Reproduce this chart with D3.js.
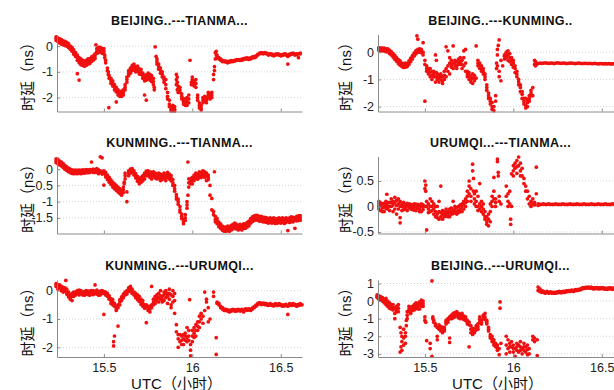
<!DOCTYPE html>
<html>
<head>
<meta charset="utf-8">
<script src="https://cdn.jsdelivr.net/npm/d3@7/dist/d3.min.js"></script>
<style>
  body { margin: 0; background: #fff; }
  svg { display: block; }
</style>
</head>
<body>
<div id="chart"></div>
<script>
// each row: [UTC hour, delay value(s) in ns at that time]
const bjTianma = [
  [15.23,0.36,0.3,0.22],[15.24,0.32,0.25,0.18],[15.25,0.28,0.2,0.12],[15.26,0.25,0.15,0.08],[15.27,0.2,0.12,0.05],
  [15.28,0.18,0.1,0.02],[15.29,0.15,0.08,0.0],[15.30,0.1,0.02,-0.05],[15.31,0.0,-0.05,-0.12],[15.32,-0.05,-0.15,-0.2],
  [15.33,-0.15,-0.25,-0.32],[15.34,-0.25,-0.32,-0.4],[15.35,-0.35,-0.45,-0.55,-1.07],[15.36,-0.45,-0.55,-0.65,-1.32],
  [15.37,-0.5,-0.6,-0.72],[15.38,-0.55,-0.65,-0.75],[15.39,-0.58,-0.68,-0.78],[15.40,-0.55,-0.65,-0.75],
  [15.41,-0.5,-0.6,-0.7],[15.42,-0.5,-0.6,-0.68],[15.43,-0.42,-0.5,-0.6],[15.44,-0.38,-0.45,-0.55],[15.45,-0.3,-0.38,-0.48],
  [15.455,0.05],[15.46,-0.1,-0.2,-0.28],[15.47,-0.05,-0.15,-0.25],[15.48,-0.05,-0.15,-0.22],[15.49,-0.1,-0.2,-0.28],
  [15.50,-0.1,-0.2,-0.3],[15.505,-0.35,-0.45],[15.51,-0.55,-0.65],[15.52,-0.85,-0.95],[15.525,-1.0,-1.1],[15.528,-2.39],
  [15.53,-1.15,-1.25],[15.54,-1.25,-1.35,-1.45],[15.55,-1.35,-1.45,-1.55],[15.56,-1.5,-1.6,-1.7],
  [15.57,-1.6,-1.7,-1.78,-2.17],[15.58,-1.7,-1.8,-1.9],[15.59,-1.78,-1.88,-1.95],[15.60,-1.75,-1.85,-1.95],
  [15.61,-1.7,-1.8,-1.9],[15.62,-1.5,-1.6,-1.7],[15.63,-1.2,-1.3,-1.4],[15.64,-0.95,-1.05,-1.15],[15.65,-0.85,-0.95,-1.05],
  [15.66,-0.75,-0.85,-0.95],[15.67,-0.7,-0.8,-0.92],[15.68,-0.8,-0.9,-1.0],[15.69,-0.78,-0.88,-0.98],
  [15.70,-0.88,-0.98,-1.08],[15.71,-0.9,-1.0,-1.1],[15.72,-1.05,-1.15,-1.25],[15.73,-1.15,-1.25,-1.35,-1.9],
  [15.74,-1.12,-1.22,-1.32,-2.1],[15.75,-1.05,-1.15,-1.25],[15.76,-1.1,-1.2,-1.32],[15.77,-1.15,-1.25,-1.38],
  [15.78,-1.25,-1.38,-1.5],[15.785,-1.6,-1.7],[15.79,-0.03],[15.795,-0.4],[15.80,-0.5,-0.6,-0.7],[15.81,-0.7,-0.8,-0.9],
  [15.82,-0.85,-0.95,-1.05],[15.83,-1.0,-1.1,-1.2],[15.84,-1.2,-1.3,-1.4],[15.85,-1.3,-1.5,-1.65],[15.86,-1.8,-1.95,-2.05],
  [15.87,-2.1,-2.25,-2.35],[15.88,-2.35,-2.45,-2.52],[15.89,-2.3,-2.42,-2.5],[15.90,-2.35,-2.45,-2.52],
  [15.91,-1.1,-1.3,-1.5],[15.915,-1.2,-1.4,-1.7],[15.92,-1.55,-1.65,-1.8],[15.93,-1.6,-1.7,-1.8],[15.94,-1.85,-1.95,-2.05],
  [15.95,-2.05,-2.15,-2.25],[15.96,-2.05,-2.2,-2.3],[15.97,-2.0,-2.15,-2.3],[15.98,-1.9,-2.05,-2.2],[15.987,-0.55],
  [15.995,-1.5,-1.4],[16.00,-1.2,-1.3,-1.4],[16.01,-1.35,-1.45,-1.55],[16.02,-1.3,-1.45,-1.6],[16.03,-1.9,-2.0,-2.1],
  [16.04,-2.2,-2.3,-2.4],[16.05,-2.3,-2.4,-2.48],[16.06,-2.0,-2.1,-2.2],[16.07,-1.95,-2.05,-2.15],[16.08,-2.0,-2.1,-2.2],
  [16.09,-1.8,-1.9,-2.0],[16.10,-1.85,-1.95,-2.05],[16.11,-1.8,-1.9,-2.0],[16.12,-1.1,-1.3],[16.125,-0.8,-0.95],
  [16.13,-0.25,-0.5],[16.135,-0.2,-0.35],[16.14,-0.35,-0.45],[16.15,-0.5,-0.45],[16.16,-0.55,-0.5],[16.17,-0.6,-0.55],
  [16.18,-0.6,-0.57],[16.19,-0.62,-0.58],[16.20,-0.65,-0.6],[16.21,-0.62,-0.58],[16.22,-0.6,-0.56],[16.23,-0.6,-0.57],
  [16.24,-0.58,-0.55],[16.25,-0.55,-0.52],[16.26,-0.55,-0.52],[16.27,-0.56,-0.53],[16.28,-0.55,-0.51],[16.29,-0.52,-0.49],
  [16.30,-0.5,-0.47],[16.31,-0.5,-0.46],[16.32,-0.52,-0.48],[16.33,-0.5,-0.46],[16.34,-0.45,-0.42],[16.35,-0.45,-0.41],
  [16.36,-0.42,-0.38],[16.37,-0.35,-0.32],[16.38,-0.3,-0.27],[16.39,-0.28,-0.25],[16.40,-0.3,-0.27],[16.41,-0.28,-0.25],
  [16.42,-0.3,-0.27],[16.43,-0.35,-0.31],[16.44,-0.32,-0.29],[16.45,-0.35,-0.31],[16.46,-0.38,-0.34],[16.47,-0.35,-0.31],
  [16.48,-0.33,-0.3],[16.49,-0.35,-0.31],[16.50,-0.38,-0.34],[16.51,-0.36,-0.33],[16.52,-0.33,-0.3],[16.53,-0.35,-0.31],
  [16.54,-0.4,-0.7],[16.55,-0.35,-0.31],[16.56,-0.32,-0.29],[16.57,-0.3,-0.27],[16.58,-0.35,-0.31],[16.59,-0.33,-0.3],
  [16.60,-0.3,-0.45],[16.61,-0.3,-0.27]
];

const bjKunming = [
  [15.24,0.17,0.12,0.07],[15.25,0.15,0.1,0.05],[15.26,0.15,0.1,0.05],[15.27,0.15,0.1,0.05],[15.28,0.12,0.07,0.02],
  [15.29,0.12,0.07,0.02],[15.30,0.08,0.02,-0.05],[15.31,0.02,-0.05,-0.1],[15.32,-0.05,-0.12,-0.18],[15.33,-0.12,-0.2,-0.26],
  [15.34,-0.2,-0.27,-0.33],[15.35,-0.27,-0.35,-0.42],[15.36,-0.32,-0.4,-0.48],[15.37,-0.4,-0.47,-0.53],
  [15.38,-0.42,-0.5,-0.56],[15.39,-0.4,-0.48,-0.55],[15.40,-0.42,-0.48,-0.53],[15.41,-0.32,-0.38,-0.45],
  [15.42,-0.22,-0.28,-0.35],[15.43,-0.12,-0.18,-0.25],[15.44,-0.02,-0.08,-0.14],[15.45,0.06,0.0,-0.06],[15.455,0.6],
  [15.46,0.1,0.05,0.0,0.48],[15.47,0.12,0.06,0.0],[15.48,0.1,0.04,-0.02],[15.49,0.0,-0.1,0.35],[15.50,-0.45,-0.3,-1.8],
  [15.51,-0.6,-0.5,-0.7],[15.52,-0.8,-0.7,-0.6],[15.53,-0.9,-0.6,-0.75],[15.54,-0.7,-1.0,-0.85],[15.55,-0.8,-0.9,-0.7],
  [15.56,-0.1,-0.9,-1.1],[15.565,-0.3,-0.75],[15.57,-0.9,-1.0,-0.8],[15.58,-0.85,-1.1,-0.95],[15.59,-1.0,-0.8,-0.9],
  [15.60,-1.15,-0.9,-1.05],[15.61,-1.0,-0.85,-0.7],[15.62,0.2,-0.6,-0.9],[15.63,0.05,-0.5,-0.7],[15.64,-0.2,-0.4,-0.8],
  [15.65,-0.45,-0.55,-0.3],[15.66,-0.6,-0.4,0.23],[15.67,-0.5,-0.3,-0.4],[15.68,-0.35,-0.5,-0.6],[15.69,-0.45,-0.25,-0.35],
  [15.70,-0.2,-0.35,-0.45],[15.71,-0.3,-0.45,-0.6],[15.72,0.05,-0.2,-0.5],[15.73,0.1,-0.4,-0.7],[15.74,-0.7,-0.9,-0.8],
  [15.75,-0.85,-1.0,-0.75],[15.76,-0.9,-1.1,-1.0],[15.77,-0.8,-1.15,-0.95],[15.78,-0.95,-1.05,-0.85],[15.79,0.23,-0.95],
  [15.80,-0.3,-0.5,-0.4],[15.81,-0.4,-0.6,-0.5],[15.82,-0.5,-0.7,-0.6],[15.83,-0.6,-0.8,-0.7],[15.84,-0.8,-1.0,-0.9],
  [15.85,-1.2,-1.4,-1.3],[15.86,-1.5,-1.7,-1.6],[15.87,-1.7,-1.9,-1.8],[15.88,-1.85,-2.1,-2.0],[15.89,-2.0,-2.15],
  [15.90,-1.8,-1.6],[15.905,-0.4,-0.6],[15.91,-0.1,0.1,-0.5],[15.915,0.25],[15.92,0.45,-0.7,-0.9],[15.93,-1.05,-0.3],
  [15.94,-0.5],[15.95,-0.1,-0.25,-0.15],[15.96,0.0,-0.2,-0.1],[15.97,0.05,-0.1,-0.3],[15.98,-0.05,-0.35,-0.2],
  [15.99,-0.3,-0.45,-0.2],[16.00,-0.4,-0.55,-0.3],[16.01,-0.6,-0.75,-0.5],[16.02,-0.8,-0.9,-0.7],[16.03,-1.0,-1.2,-1.1],
  [16.04,-1.3,-1.45,-1.2],[16.05,-1.55,-1.7,-1.45],[16.06,-1.8,-1.9,-1.7],[16.07,-1.95,-1.7,-2.05],[16.08,-1.85,-2.0,-1.75],
  [16.09,-1.6,-1.8,-1.7],[16.10,-1.4,-1.6,-1.5],[16.11,-1.6,-1.3],[16.12,-0.45,-0.3],[16.125,-0.35,-0.5],[16.13,-0.4,-0.45],
  [16.14,-0.42],[16.15,-0.4],[16.16,-0.41],[16.17,-0.4],[16.18,-0.39],[16.19,-0.4],[16.20,-0.41],[16.21,-0.4],[16.22,-0.4],
  [16.23,-0.42],[16.24,-0.4],[16.25,-0.39],[16.26,-0.4],[16.27,-0.41],[16.28,-0.4],[16.29,-0.4],[16.30,-0.42],[16.31,-0.41],
  [16.32,-0.4],[16.33,-0.4],[16.34,-0.41],[16.35,-0.42],[16.36,-0.41],[16.37,-0.4],[16.38,-0.41],[16.39,-0.42],[16.40,-0.41],
  [16.41,-0.41],[16.42,-0.42],[16.43,-0.41],[16.44,-0.42],[16.45,-0.42],[16.46,-0.41],[16.47,-0.42],[16.48,-0.43],
  [16.49,-0.42],[16.50,-0.42],[16.51,-0.43],[16.52,-0.42],[16.53,-0.43],[16.54,-0.42],[16.55,-0.43],[16.56,-0.43],
  [16.57,-0.42],[16.58,-0.43],[16.59,-0.43],[16.60,-0.42],[16.61,-0.43],[16.62,-0.43]
];

const kmTianma = [
  [15.23,0.32,0.26,0.2],[15.24,0.3,0.23,0.17],[15.25,0.25,0.19,0.13],[15.26,0.22,0.16,0.1],[15.27,0.17,0.11,0.05],
  [15.28,0.12,0.06,0.0],[15.29,0.07,0.02,-0.04],[15.30,0.03,-0.03,-0.08],[15.31,0.0,-0.05,-0.11],[15.32,-0.02,-0.07,-0.13],
  [15.33,-0.04,-0.09,-0.14],[15.34,-0.03,-0.08,-0.13],[15.35,-0.04,-0.09,-0.14],[15.36,-0.03,-0.08,-0.12],
  [15.37,-0.04,-0.09,-0.14],[15.38,-0.02,-0.07,-0.12],[15.39,-0.03,-0.08,-0.12],[15.40,-0.01,-0.06,-0.11],
  [15.41,-0.02,-0.07,-0.11],[15.42,-0.01,-0.06,-0.1],[15.43,-0.02,-0.06,0.22],[15.44,0.0,-0.05,-0.1],
  [15.45,-0.01,-0.06,-0.1],[15.46,0.02,-0.04,-0.1],[15.47,-0.02,-0.08,-0.14],[15.48,-0.05,-0.1,0.38],
  [15.49,0.35,-0.08,-0.15],[15.50,-0.05,-0.12,-0.49],[15.51,-0.1,-0.17,-0.24],[15.52,-0.18,-0.25,-0.32],
  [15.53,-0.25,-0.32,-0.4],[15.54,-0.33,-0.4,-0.47],[15.55,-0.4,-0.48,-0.55],[15.56,-0.45,-0.53,-0.6],
  [15.57,-0.5,-0.58,-0.65],[15.58,-0.55,-0.63,-0.7],[15.59,-0.6,-0.68,-0.75],[15.60,-0.65,-0.73,-0.8],
  [15.61,-0.55,-0.63,-0.72],[15.615,-0.4,-0.45],[15.62,-0.3,-0.2,-0.12],[15.63,-0.7,-1.0],[15.64,-0.05,-0.12,-0.2],
  [15.65,0.0,-0.06,-0.12],[15.66,0.02,-0.04,-0.1],[15.67,-0.05,-0.12,-0.18],[15.68,-0.14,-0.2,-0.27],
  [15.69,-0.22,-0.3,-0.37],[15.70,-0.3,-0.37,-0.45],[15.71,-0.25,-0.33,-0.4],[15.72,-0.2,-0.28,-0.36],
  [15.73,-0.12,-0.2,-0.3],[15.74,-0.06,-0.13,-0.2],[15.75,-0.05,-0.12,-0.2],[15.76,-0.08,-0.15,-0.25],
  [15.77,-0.1,-0.2,-0.3],[15.78,-0.08,-0.15,-0.22],[15.79,-0.12,-0.2,-0.27],[15.80,-0.15,-0.22,-0.3],
  [15.81,-0.12,-0.2,-0.27],[15.82,-0.15,-0.25,-0.35],[15.83,-0.18,-0.25,-0.32],[15.84,-0.12,-0.2,-0.27],
  [15.85,-0.18,-0.27,-0.35],[15.86,-0.1,-0.18,-0.25],[15.87,-0.15,-0.22,-0.3],[15.88,-0.2,-0.28,-0.36],
  [15.89,-0.32,-0.42,-0.5],[15.90,-0.5,-0.6,-0.68],[15.91,-0.78,-0.85,-0.92],[15.92,-0.92,-1.0,-1.08],
  [15.93,-1.15,-1.25,-1.32],[15.94,-1.38,-1.45,-1.52],[15.95,-1.55,-1.62,-1.68],[15.96,-1.4,-1.5,-1.58],
  [15.97,-1.0,-1.1,-1.2],[15.975,-0.8,0.22],[15.98,-0.3,-0.42,-0.55],[15.99,-0.3,-0.38,-0.45],[16.00,-0.25,-0.35,-0.45],
  [16.01,-0.18,-0.27,-0.35],[16.02,-0.12,-0.2,-0.28],[16.03,-0.15,-0.23,-0.31],[16.04,-0.08,-0.16,-0.25],
  [16.05,-0.1,-0.18,-0.26],[16.06,-0.05,-0.12,-0.2],[16.07,-0.08,-0.17,-0.25],[16.08,-0.12,-0.22,-0.35],
  [16.09,-0.18,-0.25,-0.32],[16.10,-0.5,-0.8],[16.11,-0.9,-1.25],[16.12,-1.3,-1.4],[16.125,-0.08],
  [16.13,-1.45,-1.55,-1.62],[16.14,-1.52,-1.6,-1.68],[16.15,-1.63,-1.7,-1.77],[16.16,-1.68,-1.75,-1.82],
  [16.17,-1.75,-1.82,-1.88],[16.18,-1.78,-1.85,-1.91],[16.19,-1.78,-1.85,-1.91],[16.20,-1.75,-1.82,-1.89],
  [16.21,-1.78,-1.85,-1.91],[16.22,-1.73,-1.8,-1.87],[16.23,-1.7,-1.77,-1.84],[16.24,-1.66,-1.73,-1.8],
  [16.25,-1.7,-1.77,-1.84],[16.26,-1.73,-1.8,-1.87],[16.27,-1.7,-1.77,-1.84],[16.28,-1.73,-1.8,-1.87],
  [16.29,-1.68,-1.75,-1.82],[16.30,-1.68,-1.75,-1.82],[16.31,-1.64,-1.71,-1.78],[16.32,-1.6,-1.67,-1.74],
  [16.33,-1.52,-1.59,-1.66],[16.34,-1.47,-1.54,-1.61],[16.35,-1.44,-1.51,-1.58],[16.36,-1.42,-1.49,-1.56],
  [16.37,-1.43,-1.5,-1.57],[16.38,-1.46,-1.53,-1.6],[16.39,-1.45,-1.52,-1.59],[16.40,-1.48,-1.55,-1.62],
  [16.41,-1.48,-1.55,-1.62],[16.42,-1.5,-1.57,-1.64],[16.43,-1.52,-1.59,-1.66],[16.44,-1.5,-1.57,-1.64],
  [16.45,-1.52,-1.59,-1.66],[16.46,-1.5,-1.57,-1.64],[16.47,-1.53,-1.6,-1.67],[16.48,-1.52,-1.59,-1.66],
  [16.49,-1.5,-1.57,-1.64],[16.50,-1.52,-1.59,-1.66],[16.51,-1.5,-1.57,-1.64],[16.52,-1.53,-1.6,-1.67],
  [16.53,-1.5,-1.57,-1.64],[16.54,-1.52,-1.59,-1.89],[16.55,-1.5,-1.57,-1.64],[16.56,-1.47,-1.54,-1.61],
  [16.57,-1.48,-1.55,-1.62],[16.58,-1.5,-1.57,-1.82],[16.59,-1.45,-1.52,-1.59],[16.60,-1.44,-1.51,-1.58],
  [16.61,-1.43,-1.5,-1.57]
];

const urTianma = [
  [15.24,0.0,0.05,-0.05,0.1],[15.25,0.02,-0.08,0.07],[15.26,0.05,-0.03,-0.1],[15.27,0.0,-0.1,0.06],[15.28,0.03,0.1,-0.04],
  [15.285,0.24],[15.29,0.0,-0.05,0.07],[15.30,0.08,-0.08,0.0],[15.31,0.15,0.0,0.08],[15.32,0.1,-0.1,0.03],
  [15.33,0.18,-0.05,0.08],[15.34,0.12,-0.15,0.02],[15.35,0.05,0.15,-0.05],[15.36,-0.22,-0.32,0.0,0.1],[15.37,0.05,-0.08,0.0],
  [15.38,0.0,0.08,-0.06],[15.39,-0.05,0.03,0.0],[15.40,0.02,-0.08,0.06],[15.41,0.05,-0.03,0.0],[15.42,0.0,-0.05,0.04],
  [15.43,0.03,-0.06,0.0],[15.44,-0.02,0.05,-0.07],[15.45,0.0,-0.08,0.04],[15.46,0.04,-0.04,0.0],[15.47,-0.05,0.02,-0.1],
  [15.48,0.0,-0.1,0.05],[15.49,-0.06,0.03,0.0],[15.50,0.35,0.5,0.0],[15.505,0.3,0.42],[15.51,0.1,-0.46,0.0],
  [15.52,-0.05,0.05,-0.12],[15.53,0.15,-0.1,0.0],[15.54,0.0,0.1,-0.08],[15.55,-0.05,-0.15,0.05],[15.56,-0.1,-0.2,0.0],
  [15.57,-0.15,0.0,-0.22],[15.58,-0.25,-0.1,0.1],[15.59,0.4,-0.2,-0.12],[15.60,-0.15,-0.25,-0.08],[15.61,-0.2,-0.1,-0.15],
  [15.62,-0.18,-0.12,-0.05],[15.63,-0.15,-0.1,-0.2],[15.64,-0.12,-0.2,-0.05],[15.65,-0.1,-0.15,-0.03],
  [15.66,-0.08,0.1,-0.14],[15.67,-0.12,-0.05,0.0],[15.68,-0.1,-0.02,-0.15],[15.69,-0.08,0.0,-0.12],[15.70,-0.05,0.03,-0.1],
  [15.71,-0.1,0.0,0.05],[15.72,0.05,-0.05,0.1],[15.73,0.08,0.0,0.15],[15.74,0.2,0.3,0.1],[15.75,0.4,0.5,0.25],
  [15.76,0.35,0.2,0.1],[15.77,0.83,0.7],[15.775,0.55,0.3],[15.78,0.25,0.15,0.05],[15.79,0.3,0.1,0.0],[15.80,0.0,0.2,-0.08],
  [15.81,0.45,0.05,-0.05],[15.82,0.0,-0.1,0.1],[15.83,-0.05,-0.15,0.05],[15.84,-0.2,-0.25,-0.1],[15.85,-0.3,-0.35,-0.2],
  [15.86,-0.25,-0.38,-0.15],[15.87,-0.3,0.05,-0.1],[15.88,0.1,0.2,0.0],[15.89,0.3,0.57,0.15],[15.90,0.0,0.15,0.08],
  [15.91,0.93,0.88],[15.915,0.67,0.6],[15.92,0.1,0.2],[15.93,0.05],[15.96,0.4,0.2],[15.97,0.1,0.0,0.25],
  [15.98,0.3,0.05],[15.985,-0.25,-0.35],[15.99,0.64,0.0],[16.00,0.7,0.8,0.6],[16.01,0.85,0.75],[16.02,0.9,0.65,0.78],
  [16.03,0.97,0.8],[16.04,0.85,0.7,0.6],[16.05,0.75,0.6],[16.06,0.55,0.45],[16.07,0.4,0.3],[16.08,0.3,0.15],
  [16.09,0.2,0.05],[16.10,0.1,0.0],[16.11,0.05,0.15],[16.12,0.03,0.08],[16.13,0.77,0.25],[16.14,0.05,0.02],
  [16.15,0.04],[16.16,0.04],[16.17,0.05],[16.18,0.04],[16.19,0.04],[16.20,0.05],[16.21,0.04],[16.22,0.04],[16.23,0.04],
  [16.24,0.05],[16.25,0.04],[16.26,0.04],[16.27,0.04],[16.28,0.05],[16.29,0.04],[16.30,0.04],[16.31,0.04],[16.32,0.05],
  [16.33,0.04],[16.34,0.04],[16.35,0.04],[16.36,0.05],[16.37,0.04],[16.38,0.04],[16.39,0.04],[16.40,0.05],[16.41,0.04],
  [16.42,0.04],[16.43,0.04],[16.44,0.05],[16.45,0.04],[16.46,0.04],[16.47,0.04],[16.48,0.05],[16.49,0.04],[16.50,0.04],
  [16.51,0.04],[16.52,0.05],[16.53,0.04],[16.54,0.04],[16.55,0.04],[16.56,0.05],[16.57,0.04],[16.58,0.04],[16.59,0.04],
  [16.60,0.05],[16.61,0.04],[16.62,0.04]
];

const kmUrumqi = [
  [15.23,0.25,0.15,0.2],[15.24,0.2,0.05,0.12],[15.25,0.1,0.2,0.15],[15.26,0.0,0.15,0.08],[15.27,0.05,-0.05,0.12],
  [15.28,0.0,0.1,0.05],[15.285,0.36],[15.29,-0.05,0.05,-0.12],[15.30,-0.15,-0.05,-0.22],[15.31,-0.25,-0.3,-0.15],
  [15.32,-0.2,-0.35,-0.1],[15.33,-0.1,-0.2,-0.05],[15.34,-0.05,-0.15,-0.1],[15.35,0.0,-0.1,-0.05],[15.36,-0.05,-0.15,0.02],
  [15.37,-0.1,0.0,-0.05],[15.38,-0.05,-0.15,-0.1],[15.39,-0.1,-0.03,-0.16],[15.40,-0.05,-0.12,0.0],[15.41,-0.08,-0.14,-0.02],
  [15.42,-0.1,-0.02,-0.16],[15.43,-0.05,-0.12,0.0],[15.44,-0.08,0.0,-0.14],[15.45,-0.1,0.2,-0.04],[15.46,-0.05,-0.12,0.02],
  [15.47,-0.1,-0.03,-0.16],[15.48,-0.08,-0.15,-0.02],[15.49,-0.05,-0.1,0.0],[15.50,-0.1,-0.84,-0.03],
  [15.51,-0.15,-0.05,-0.1],[15.52,-0.1,-0.2,-0.15],[15.53,-0.25,-0.3,-0.18],[15.54,-0.35,-0.45,-0.28],
  [15.55,-0.4,-0.5,-0.32],[15.555,-1.8,-1.95],[15.56,-0.55,-1.6,-0.45],[15.57,-0.65,-0.7,-0.55],[15.58,-1.25,-0.6,-0.5],
  [15.59,-0.5,-0.4,-0.32],[15.60,-0.35,-0.3,-0.22],[15.61,-0.25,-0.2,-0.12],[15.62,-0.1,-0.15,-0.05],[15.63,0.0,-0.05,-0.12],
  [15.64,0.1,0.05,-0.03],[15.65,0.15,0.0,0.07],[15.66,-0.05,0.05,-0.1],[15.67,-0.1,-0.15,-0.05],[15.68,-0.2,-0.1,-0.25],
  [15.69,-0.25,-0.15,-0.32],[15.70,-0.3,-0.2,-0.38],[15.71,-0.4,-0.3,-0.48],[15.72,-0.45,-0.35,-0.55],
  [15.73,-0.5,-0.55,-0.62],[15.74,-0.6,-1.13,-0.5],[15.75,-0.7,-0.55,-0.62],[15.76,-0.75,-0.65,-0.55],
  [15.77,0.15,-0.6,-0.5],[15.78,-0.5,-0.3,-0.4],[15.79,-0.45,-0.2,-0.32],[15.80,-0.35,-0.15,-0.25],[15.81,-0.1,-0.25,-0.4],
  [15.82,-0.3,0.0,-0.18],[15.83,-0.2,-0.4,-0.3],[15.84,-0.15,-0.35,-0.05],[15.85,0.0,-0.1,-0.25],[15.86,-0.45,-0.2,-0.1],
  [15.87,-0.1,0.05,-0.3],[15.88,-0.5,-0.6,-0.15],[15.89,-0.2,0.0,-0.4],[15.90,-0.35,-0.8,-0.1],[15.91,-1.2,-1.45],
  [15.92,-1.7,-2.0,-1.55],[15.93,-1.55,-1.8],[15.94,-1.6,-1.75,-1.9],[15.95,-1.7,-1.9,-1.55],[15.96,-1.6,-1.5,-1.75],
  [15.97,-1.8,-1.3,-1.65],[15.98,-1.75,-1.4,-1.6],[15.985,-0.32],[15.99,-2.1,-2.3,-1.9],[16.00,-1.6,-1.8,-1.4],
  [16.01,-1.5,-1.3,-1.65],[16.02,-1.2,-1.6,-1.4],[16.03,-1.1,-1.4,-1.25],[16.04,-0.9,-1.3,-1.1],[16.05,-0.8,-1.0],
  [16.06,-0.9,-1.15],[16.07,-0.7,-0.05],[16.08,-0.3,-0.4],[16.09,-0.6,-1.1],[16.10,-1.0],[16.12,-0.05,-0.2],
  [16.135,-1.66,-2.25],[16.14,-0.4,-0.45],[16.15,-0.45,-0.5],[16.16,-0.55,-0.6],[16.17,-0.6,-0.65],[16.18,-0.65,-0.7],
  [16.19,-0.7,-0.66],[16.20,-0.72,-0.68],[16.21,-0.7,-0.75],[16.22,-0.72,-0.68],[16.23,-0.7,-0.66],[16.24,-0.68,-0.72],
  [16.25,-0.72,-0.68],[16.26,-0.7,-0.66],[16.27,-0.68,-0.72],[16.28,-0.7,-0.66],[16.29,-0.7,-0.75],[16.30,-0.68,-0.64],
  [16.31,-0.65,-0.69],[16.32,-0.68,-0.64],[16.33,-0.7,-0.66],[16.34,-0.65,-0.61],[16.35,-0.6,-0.56],[16.36,-0.55,-0.51],
  [16.37,-0.45,-0.49],[16.38,-0.42,-0.46],[16.39,-0.45,-0.49],[16.40,-0.48,-0.44],[16.41,-0.45,-0.49],[16.42,-0.5,-0.46],
  [16.43,-0.48,-0.52],[16.44,-0.5,-0.46],[16.45,-0.52,-0.48],[16.46,-0.5,-0.54],[16.47,-0.5,-0.46],[16.48,-0.48,-0.52],
  [16.49,-0.5,-0.46],[16.50,-0.52,-0.48],[16.51,-0.55,-0.51],[16.52,-0.5,-0.54],[16.53,-0.52,-0.48],[16.54,-0.55,-0.84],
  [16.55,-0.5,-0.46],[16.56,-0.48,-0.52],[16.57,-0.5,-0.46],[16.58,-0.52,-0.48],[16.59,-0.5,-0.55],[16.60,-0.48,-0.52],
  [16.61,-0.5,-0.46],[16.62,-0.5]
];

const bjUrumqi = [
  [15.23,0.35,0.2,0.28],[15.24,0.3,0.1,0.2],[15.25,0.25,0.05,0.15],[15.26,0.2,0.0,0.1],[15.27,0.1,-0.1,0.02],
  [15.28,0.15,-0.2,-0.05],[15.29,0.0,-0.3,-0.15],[15.30,-0.1,-0.4,-0.25],[15.31,-0.2,-0.3,-0.45],[15.32,-0.35,-0.5,-0.2],
  [15.33,-0.4,-0.7,-1.0],[15.34,-0.5,-0.3,-0.6],[15.35,-0.6,-0.2,-0.4],[15.36,-1.5,-2.9],[15.365,-1.8,-2.6],
  [15.37,-2.0,-2.3,-2.8],[15.38,-1.6,-2.1,-2.5],[15.39,-1.8,-2.0,-2.4],[15.395,-1.4,-1.1],[15.40,-0.8,-1.0,-0.6],
  [15.41,-0.6,-0.3,-0.45],[15.42,-0.5,-0.7,-0.35],[15.43,-0.3,-0.4,-0.55],[15.44,-0.2,-0.5,-0.35],[15.45,-0.1,-0.4,-0.25],
  [15.46,-0.3,-0.15,-0.45],[15.47,-0.2,-0.45,-0.05],[15.48,-0.1,0.05,-0.3],[15.49,0.0,-0.3,-0.15],[15.50,-0.9,-1.1],
  [15.505,-1.2],[15.51,-2.25],[15.53,-2.4,-2.7],[15.54,1.15,-3.15],[15.545,-0.9,-1.0],[15.55,-1.1,-1.2],[15.56,-1.3,-1.4],
  [15.57,-1.5,-2.0,-2.2],[15.58,-1.45,-1.6,-1.35],[15.59,-1.55,-1.7,-1.45],[15.60,-1.65,-1.8,-1.5],[15.61,-1.7,-1.5,-1.6],
  [15.62,-1.3,-1.1,-1.2],[15.63,-1.0,-1.2,-1.1],[15.64,-0.9,-2.1,-2.35,-1.0],[15.65,-0.8,-1.0,-0.9],
  [15.66,-0.7,-0.85,-0.95],[15.67,-0.65,-0.9,-0.78],[15.68,-0.6,-0.8,-0.7],[15.69,-0.7,-0.95,-0.82],[15.70,-0.75,-1.0,-0.88],
  [15.71,-0.8,-0.95,-0.7],[15.72,-0.85,-1.05,-0.95],[15.73,-0.9,-1.1,-1.0],[15.74,-1.1,-1.3,-1.2],[15.75,-1.2,-2.6,-1.35],
  [15.76,-1.6,-1.4,-1.8],[15.77,-1.7,-1.9,-1.55],[15.78,-1.8,-1.6,-1.7],[15.79,-1.4,-1.5,-1.65],[15.80,-1.3,-1.6,-1.45],
  [15.81,-0.9,-1.2,-1.05],[15.82,-1.3,-1.1,-1.2],[15.83,-0.8,-1.0,-0.9],[15.84,-0.7,-0.9,-1.05],[15.85,-1.1,-1.3,-1.2],
  [15.86,-1.5,-1.7,-1.6],[15.87,-1.9,-2.1,-2.0],[15.88,-2.0,-2.3,-2.15],[15.89,-2.2,-2.5,-2.35],[15.90,-2.4,-2.6,-2.5],
  [15.91,-2.5,-2.8,-2.65],[15.92,-2.7,-3.05],[15.925,-0.05,-0.4],[15.93,-2.4],[15.96,-2.0,-2.5,-3.0],[15.97,-2.2,-2.7],
  [15.98,-2.4,-2.9,-2.6],[15.99,-2.6,-2.3],[16.00,-2.5,-2.9,-2.7],[16.01,-2.7,-3.15],[16.02,-2.4,-2.8,-2.6],
  [16.03,-2.5,-2.9],[16.04,-2.6,-2.3,-2.8],[16.05,-2.7,-3.0],[16.06,-2.4,-2.8,-2.6],[16.07,-2.6,-2.9],
  [16.08,-2.5,-3.05,-2.75],[16.09,-2.7,-3.0],[16.11,-2.0,-2.2],[16.12,-2.1,-2.3],[16.135,-3.1,-2.2],[16.14,0.8,0.6],
  [16.15,0.7,0.55],[16.16,0.6,0.5],[16.17,0.55,0.5],[16.18,0.5,0.45],[16.19,0.55,0.5],[16.20,0.5,0.45],[16.21,0.48,0.53],
  [16.22,0.5,0.45],[16.23,0.45,0.5],[16.24,0.5,0.45],[16.25,0.48,0.53],[16.26,0.5,0.55],[16.27,0.52,0.47],[16.28,0.5,0.55],
  [16.29,0.55,0.5],[16.30,0.58,0.53],[16.31,0.55,0.6],[16.32,0.6,0.55],[16.33,0.58,0.63],[16.34,0.55,0.6],[16.35,0.6,0.65],
  [16.36,0.65,0.6],[16.37,0.62,0.67],[16.38,0.7,0.65],[16.39,0.75,0.7],[16.40,0.72,0.77],[16.41,0.78,0.73],[16.42,0.8,0.75],
  [16.43,0.78,0.73],[16.44,0.75,0.8],[16.45,0.7,0.75],[16.46,0.75,0.7],[16.47,0.72,0.77],[16.48,0.7,0.75],[16.49,0.75,0.7],
  [16.50,0.72,0.77],[16.51,0.7,0.75],[16.52,0.68,0.73],[16.53,0.72,0.67],[16.54,0.7,0.75],[16.55,0.75,0.7],
  [16.56,0.72,0.67],[16.57,0.7,0.75],[16.58,0.68,0.73],[16.59,0.7,0.65],[16.60,0.72,0.67],[16.61,0.7,0.65],[16.62,0.68]
];

const titles = ['BEIJING..---TIANMA...', 'BEIJING..---KUNMING..', 'KUNMING..---TIANMA...',
                'URUMQI...---TIANMA...', 'KUNMING..---URUMQI...', 'BEIJING..---URUMQI...'];
const seriesList = [bjTianma, bjKunming, kmTianma, urTianma, kmUrumqi, bjUrumqi];
const yRanges = [[-2.54, 0.45], [-2.18, 0.65], [-1.98, 0.39], [-0.53, 0.98], [-2.34, 0.375], [-3.18, 1.2]];
const yTickList = [[-2, -1, 0], [-2, -1, 0], [-1.5, -1, -0.5, 0], [-0.5, 0, 0.5], [-2, -1, 0], [-3, -2, -1, 0, 1]];
const xTicks = [15.5, 16, 16.5];
const xRange = [15.235, 16.62];
const yLabel = '时延（ns）';
const xLabel = 'UTC（小时）';

const W = 614, H = 390;
const plotW = 245, plotH = 77;
const colX = [57, 378];
const rowY = [34.5, 156.5, 280];
const latin = '"Liberation Sans", Arial, Helvetica, sans-serif';
const cjk = '"Liberation Sans", "Noto Sans CJK SC", sans-serif';

const svg = d3.select('#chart').append('svg')
  .attr('width', W)
  .attr('height', H)
  .style('background', '#fff');

const x = d3.scaleLinear().domain(xRange).range([0, plotW]);

seriesList.forEach((rows, i) => {
  const col = i % 2, row = Math.floor(i / 2);
  const x0 = colX[col], y0 = rowY[row];
  const y = d3.scaleLinear().domain(yRanges[i]).range([plotH, 0]);

  const g = svg.append('g').attr('transform', 'translate(' + x0 + ',' + y0 + ')');

  // dotted horizontal grid
  g.selectAll('line.grid')
    .data(yTickList[i])
    .enter()
    .append('line')
      .attr('class', 'grid')
      .attr('x1', 0).attr('x2', plotW)
      .attr('y1', d => y(d)).attr('y2', d => y(d))
      .attr('stroke', '#c8c8c8')
      .attr('stroke-width', 0.8)
      .attr('stroke-dasharray', '1,2');

  const pts = [];
  rows.forEach(r => { for (let k = 1; k < r.length; k++) pts.push([r[0], r[k]]); });

  g.selectAll('circle')
    .data(pts)
    .enter()
    .append('circle')
      .attr('cx', d => x(d[0]))
      .attr('cy', d => y(d[1]))
      .attr('r', 1.85)
      .style('fill', '#f01010');

  const yAxis = g.append('g')
    .call(d3.axisLeft(y).tickValues(yTickList[i]).tickSize(-3).tickSizeOuter(0).tickPadding(4).tickFormat(d => String(d)));
  const xAxis = g.append('g')
    .attr('transform', 'translate(0,' + plotH + ')')
    .call(d3.axisBottom(x).tickValues(xTicks).tickSize(-3).tickSizeOuter(0).tickPadding(6.5)
      .tickFormat(row === 2 ? d => String(d) : () => ''));

  [yAxis, xAxis].forEach(a => {
    a.select('.domain').attr('stroke', '#8a8a8a');
    a.selectAll('.tick line').attr('stroke', '#8a8a8a');
    a.selectAll('text').attr('fill', '#222').style('font-family', latin).style('font-size', '12.5px');
  });

  g.append('text')
    .attr('x', plotW / 2)
    .attr('y', -10)
    .attr('text-anchor', 'middle')
    .style('font-family', latin)
    .style('font-weight', 'bold')
    .style('font-size', '12.5px')
    .style('letter-spacing', '0.4px')
    .attr('fill', '#111')
    .text(titles[i]);

  const lx = col === 0 ? -30 : -33;
  g.append('text')
    .attr('transform', 'translate(' + lx + ',' + (plotH / 2) + ') rotate(-90)')
    .attr('text-anchor', 'middle')
    .attr('dominant-baseline', 'central')
    .style('font-family', cjk)
    .style('font-size', '15px')
    .attr('fill', '#111')
    .text(yLabel);

  if (row === 2) {
    g.append('text')
      .attr('x', plotW / 2 - 3)
      .attr('y', H - y0 - 1)
      .attr('text-anchor', 'middle')
      .style('font-family', cjk)
      .style('font-size', '15px')
      .attr('fill', '#111')
      .text(xLabel);
  }
});
</script>
</body>
</html>
